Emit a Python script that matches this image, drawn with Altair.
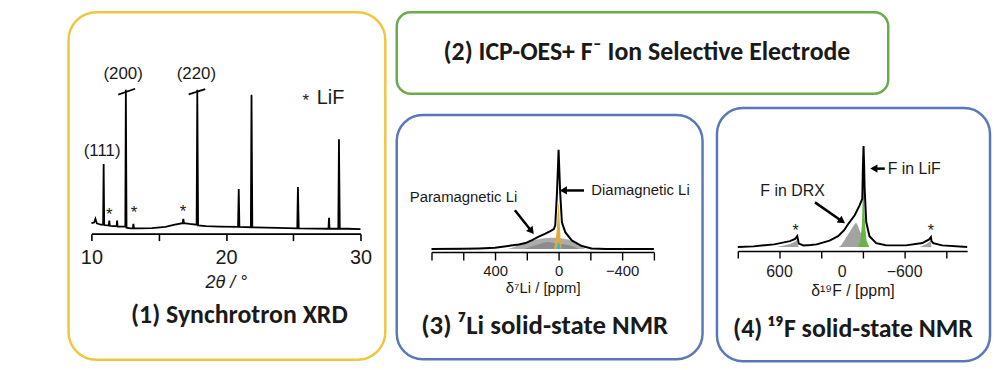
import altair as alt
import pandas as pd

# ---------------- data ----------------
# (1) synchrotron XRD trace
xrd_two_theta = [10.0, 10.2, 10.3, 10.4, 10.7, 10.87, 10.91, 10.95, 11.29, 11.33, 11.37, 11.6,
                 11.87, 11.91, 11.95, 12.3, 12.52, 12.56, 12.61, 12.9, 13.08, 13.12, 13.16, 13.5,
                 14.5, 15.5, 16.2, 16.78, 16.83, 16.88, 17.3, 17.82, 17.87, 17.93, 18.5, 19.5,
                 20.9, 20.95, 21.0, 21.85, 21.9, 21.96, 23.0, 25.3, 25.35, 25.41, 27.62, 27.66,
                 27.7, 28.35, 28.4, 28.46, 29.0, 30.0]
xrd_intensity = [7.0, 7.5, 10.0, 7.0, 6.0, 6.0, 46.7, 5.8, 5.5, 8.7, 5.3, 5.0,
                 5.0, 8.7, 4.8, 4.7, 4.7, 96.7, 4.0, 3.5, 3.5, 6.5, 3.5, 3.5,
                 3.7, 4.5, 6.0, 7.0, 10.0, 7.0, 6.5, 6.0, 96.7, 5.5, 5.0, 4.7,
                 4.5, 30.0, 4.5, 4.3, 93.3, 4.3, 4.0, 3.5, 31.3, 3.5, 3.3, 10.7,
                 3.3, 3.3, 63.3, 3.3, 3.3, 3.0]
xrd_break_x = [11.99, 17.23]
xrd_break_x2 = [13.25, 18.46]
xrd_break_y = [93.3, 93.5]
xrd_break_y2 = [97.3, 97.1]
xrd_labels = ["(111)", "(200)", "(220)"]
xrd_label_x = [10.8, 12.36, 17.8]
xrd_label_y = [55.3, 107.3, 107.3]
xrd_star_x = [11.33, 13.17, 16.81, 25.94]
xrd_star_y = [15.3, 16.4, 16.9, 92.0]
xrd_ticks = [10, 12.5, 15, 17.5, 20, 22.5, 25, 27.5, 30]

# (3) 7Li NMR
li_ppm = [800, 600, 500, 400, 300, 250, 208, 167, 125, 83, 52, 30, 21, 10, 5, 0, -5, -10, -21,
          -42, -83, -146, -208, -300, -600]
li_total = [0, 0.2, 0.6, 1.3, 3.5, 4.5, 6, 9, 12.5, 15.5, 18, 20, 24, 57, 78, 100, 78, 57, 27,
            17, 8.7, 3, 0.5, 0, 0]
li_broad_ppm = [320, 280, 230, 200, 146, 100, 50, 0, -62, -112, -140, -167]
li_broad = [0, 2, 5.3, 7, 9.3, 10.7, 11.3, 11.3, 9.7, 5.3, 2.5, 0]
li_para_ppm = [220, 150, 90, 60, 30, 10, -20, -60, -100, -130]
li_para = [0, 3.5, 6.5, 7, 6, 4.5, 5, 4, 2, 0]
li_dia_ppm = [29, 18, 10, 5, 2, -2, -6, -12, -19]
li_dia = [0, 8, 22, 38, 45, 45, 30, 12, 0]
li_small_ppm = [15, 6, 0, -6, -15]
li_small = [0, 5, 7, 5, 0]
li_ticks = [800, 600, 400, 200, 0, -200, -400, -600]

# (4) 19F NMR
f_ppm = [1000, 850, 650, 500, 450, 430, 415, 370, 300, 244, 120, 38, -20, -57, -121, -168,
         -194, -200, -206, -212, -216, -232, -263, -327, -420, -613, -770, -835, -852, -858,
         -875, -960, -1200]
f_total = [0, 0.7, 2.7, 6, 8.3, 11, 3.5, 1.7, 2, 2.7, 6.5, 11, 17, 23, 32, 42,
           48.5, 80, 101.7, 80, 60, 25, 11, 4, 1.8, 1.7, 4, 7.7, 10, 6,
           4, 1.7, 0]
f_drx_ppm = [30, 6, -41, -89, -120, -136, -150, -175, -200, -225, -250]
f_drx = [0, 2, 10, 18, 23, 24.5, 22, 15, 11, 5, 0]
f_sb1_ppm = [630, 560, 500, 450, 432, 418]
f_sb1 = [0, 1.5, 3, 5.5, 7, 0]
f_sb2_ppm = [-745, -790, -830, -850, -858]
f_sb2 = [0, 2, 4.5, 6, 0]
f_lif_ppm = [-150, -175, -190, -198, -205, -212, -220, -236, -262]
f_lif = [0, 6, 22, 50, 72, 50, 22, 6, 0]
f_star_ppm = [445, -851]
f_star_y = [20, 20]
f_ticks = [1000, 800, 600, 400, 200, 0, -200, -400, -600, -800, -1000, -1200]
f_tick_labels = ["600", "0", "\u2212600"]
f_tick_label_ppm = [600, 0, -600]

titles = ["(1) Synchrotron XRD", "(2) ICP-OES+ F\u207b Ion Selective Electrode",
          "(3) \u2077Li solid-state NMR", "(4) \u00b9\u2079F solid-state NMR"]

# ---------------- style ----------------
LBL = "Liberation Sans"
TTL = "Carlito, Lato, sans-serif"
TSIZE = 26
INK = "#1a1a1a"


def box(color, radius=26):
    return alt.ViewBackground(stroke=color, strokeWidth=2.5, cornerRadius=radius, fill="white")


def area_layer(xs, ys, xf, yf, ax, title, color):
    d = pd.DataFrame({"ppm": xs, "I": ys})
    return alt.Chart(d).mark_area(color=color, opacity=1, line=False).encode(
        x=alt.X("ppm:Q", scale=xf, axis=ax, title=title),
        y=alt.Y("I:Q", scale=yf, axis=None, stack=None),
    )


def arrow_head(x, y, angle, xf, yf):
    return alt.Chart(pd.DataFrame({"x": [x], "y": [y]})).mark_point(
        shape="triangle-up", filled=True, size=70, color="black", opacity=1, angle=angle).encode(
        x=alt.X("x:Q", scale=xf), y=alt.Y("y:Q", scale=yf))


# ---------------- (1) XRD ----------------
xs1 = alt.Scale(domain=[10, 30], range=[23, 294], nice=False, zero=False)
ys1 = alt.Scale(domain=[0, 100], range=[223, 73], nice=False, zero=False)
xrd_df = pd.DataFrame({"tt": xrd_two_theta, "I": xrd_intensity})
xrd_line = alt.Chart(xrd_df).mark_line(color="black", strokeWidth=1.8).encode(
    x=alt.X("tt:Q", scale=xs1, title="2\u03b8 / \u00b0",
            axis=alt.Axis(values=xrd_ticks, offset=-127, tickSize=7, tickWidth=1.6,
                          domainWidth=1.6, domainColor="black", tickColor="black",
                          labelExpr="datum.value % 10 == 0 ? datum.label : ''",
                          labelFont=LBL, labelFontSize=20, labelColor=INK, labelPadding=7,
                          labelFlush=False, labelOverlap=False, grid=False,
                          titleFont=LBL, titleFontSize=18, titleFontStyle="italic",
                          titleFontWeight="normal", titleColor=INK, titlePadding=6)),
    y=alt.Y("I:Q", scale=ys1, axis=None),
)
brk_df = pd.DataFrame({"x": xrd_break_x, "x2": xrd_break_x2, "y": xrd_break_y, "y2": xrd_break_y2})
xrd_breaks = alt.Chart(brk_df).mark_rule(color="black", strokeWidth=1.8).encode(
    x=alt.X("x:Q", scale=xs1), x2="x2:Q", y=alt.Y("y:Q", scale=ys1), y2="y2:Q")
lab_df = pd.DataFrame({"x": xrd_label_x, "y": xrd_label_y, "t": xrd_labels})
xrd_labs = alt.Chart(lab_df).mark_text(font=LBL, fontSize=17, color=INK).encode(
    x=alt.X("x:Q", scale=xs1), y=alt.Y("y:Q", scale=ys1), text="t:N")
star_df = pd.DataFrame({"x": xrd_star_x, "y": xrd_star_y})
xrd_stars = alt.Chart(star_df).mark_text(text="*", font=LBL, fontSize=17, color=INK, dy=4).encode(
    x=alt.X("x:Q", scale=xs1), y=alt.Y("y:Q", scale=ys1))
lif_df = pd.DataFrame({"x": [26.75], "y": [91.3], "t": ["LiF"]})
xrd_lif = alt.Chart(lif_df).mark_text(font=LBL, fontSize=20, color=INK, align="left").encode(
    x=alt.X("x:Q", scale=xs1), y=alt.Y("y:Q", scale=ys1), text="t:N")
t1 = alt.Chart(pd.DataFrame({"t": [titles[0]]})).mark_text(
    font=TTL, fontSize=TSIZE, fontWeight="bold", color=INK).encode(
    text="t:N", x=alt.value(172), y=alt.value(305))
xrd = alt.layer(xrd_line, xrd_breaks, xrd_labs, xrd_stars, xrd_lif, t1).properties(
    width=319, height=350, view=box("#efc63f", 28))

# ---------------- (2) ICP ----------------
icp = alt.Chart(pd.DataFrame({"t": [titles[1]]})).mark_text(
    font=TTL, fontSize=TSIZE, fontWeight="bold", color=INK).encode(
    text="t:N", x=alt.value(252), y=alt.value(40)).properties(
    width=495, height=82, view=box("#6aab4b", 14))

# ---------------- (3) 7Li NMR ----------------
xs3 = alt.Scale(domain=[800, -600], range=[35, 259], nice=False, zero=False)
ys3 = alt.Scale(domain=[0, 100], range=[135, 35], nice=False, zero=False)
ax3 = alt.Axis(values=li_ticks, offset=-108, tickSize=8, tickWidth=1.4,
               domainWidth=1.4, domainColor="black", tickColor="black",
               labelExpr="(abs(datum.value) < 1 || abs(abs(datum.value) - 400) < 1) ? datum.label : ''",
               labelFont=LBL, labelFontSize=15, labelColor=INK, labelPadding=4,
               labelFlush=False, labelOverlap=False, grid=False,
               titleFont=LBL, titleFontSize=15, titleFontWeight="normal",
               titleColor=INK, titlePadding=2)
ttl3 = "\u03b4\u2077Li / [ppm]"
li_df = pd.DataFrame({"ppm": li_ppm, "I": li_total})
li_line = alt.Chart(li_df).mark_line(color="black", strokeWidth=2).encode(
    x=alt.X("ppm:Q", scale=xs3, axis=ax3, title=ttl3),
    y=alt.Y("I:Q", scale=ys3, axis=None),
)
li_areas = [
    area_layer(li_broad_ppm, li_broad, xs3, ys3, ax3, ttl3, "#ababab"),
    area_layer(li_para_ppm, li_para, xs3, ys3, ax3, ttl3, "#8c8c8c"),
    area_layer(li_dia_ppm, li_dia, xs3, ys3, ax3, ttl3, "#e3aa3c"),
    area_layer(li_small_ppm, li_small, xs3, ys3, ax3, ttl3, "#41b6c8"),
]
li_txt_df = pd.DataFrame({"x": [937, -206], "y": [52, 59], "t": ["Paramagnetic Li", "Diamagnetic Li"]})
li_txt = alt.Chart(li_txt_df).mark_text(font=LBL, fontSize=15, color=INK, align="left").encode(
    x=alt.X("x:Q", scale=xs3), y=alt.Y("y:Q", scale=ys3), text="t:N")
li_arr_df = pd.DataFrame({"x": [275, -160], "x2": [170, -30], "y": [39, 59], "y2": [18, 59]})
li_arr = alt.Chart(li_arr_df).mark_rule(color="black", strokeWidth=2.5).encode(
    x=alt.X("x:Q", scale=xs3), x2="x2:Q", y=alt.Y("y:Q", scale=ys3), y2="y2:Q")
t3 = alt.Chart(pd.DataFrame({"t": [titles[2]]})).mark_text(
    font=TTL, fontSize=27, fontWeight="bold", color=INK).encode(
    text="t:N", x=alt.value(149), y=alt.value(213))
li = alt.layer(*li_areas, li_line, li_txt, li_arr,
               arrow_head(170, 18, 142, xs3, ys3), arrow_head(-30, 59, 270, xs3, ys3),
               t3).properties(width=308, height=246, view=box("#5a78b9", 26))

spacer = alt.Chart(pd.DataFrame({"v": [0]})).mark_rule(strokeOpacity=0).encode(
    x=alt.value(1), y=alt.value(0), y2=alt.value(1)).properties(
    width=308, height=1, view=alt.ViewBackground(strokeOpacity=0, fillOpacity=0))

# ---------------- (4) 19F NMR ----------------
xs4 = alt.Scale(domain=[1000, -1200], range=[21, 252], nice=False, zero=False)
ys4 = alt.Scale(domain=[0, 100], range=[140, 40], nice=False, zero=False)
ax4 = alt.Axis(values=f_ticks, offset=-111, tickSize=7, tickWidth=1.4,
               domainWidth=1.4, domainColor="black", tickColor="black",
               labels=False, grid=False,
               titleFont=LBL, titleFontSize=16, titleFontWeight="normal",
               titleColor=INK, titlePadding=24)
ttl4 = "\u03b4\u00b9\u2079F / [ppm]"
f_df = pd.DataFrame({"ppm": f_ppm, "I": f_total})
f_line = alt.Chart(f_df).mark_line(color="black", strokeWidth=2).encode(
    x=alt.X("ppm:Q", scale=xs4, axis=ax4, title=ttl4),
    y=alt.Y("I:Q", scale=ys4, axis=None),
)
f_areas = [
    area_layer(f_drx_ppm, f_drx, xs4, ys4, ax4, ttl4, "#a3a3a3"),
    area_layer(f_sb1_ppm, f_sb1, xs4, ys4, ax4, ttl4, "#a3a3a3"),
    area_layer(f_sb2_ppm, f_sb2, xs4, ys4, ax4, ttl4, "#a3a3a3"),
    area_layer(f_lif_ppm, f_lif, xs4, ys4, ax4, ttl4, "#6cb24a"),
]
f_lab_df = pd.DataFrame({"x": f_tick_label_ppm, "y": [-25] * 3, "t": f_tick_labels})
f_labs = alt.Chart(f_lab_df).mark_text(font=LBL, fontSize=16, color=INK).encode(
    x=alt.X("x:Q", scale=xs4, axis=ax4, title=ttl4), y=alt.Y("y:Q", scale=ys4), text="t:N")
f_txt_df = pd.DataFrame({"x": [784, -438], "y": [56.7, 79], "t": ["F in DRX", "F in LiF"]})
f_txt = alt.Chart(f_txt_df).mark_text(font=LBL, fontSize=16, color=INK, align="left").encode(
    x=alt.X("x:Q", scale=xs4), y=alt.Y("y:Q", scale=ys4), text="t:N")
f_stars = alt.Chart(pd.DataFrame({"x": f_star_ppm, "y": f_star_y})).mark_text(
    text="*", font=LBL, fontSize=16, color=INK, dy=4).encode(
    x=alt.X("x:Q", scale=xs4), y=alt.Y("y:Q", scale=ys4))
f_arr_df = pd.DataFrame({"x": [260, -410], "x2": [0, -305], "y": [45, 79], "y2": [26, 79]})
f_arr = alt.Chart(f_arr_df).mark_rule(color="black", strokeWidth=2.5).encode(
    x=alt.X("x:Q", scale=xs4), x2="x2:Q", y=alt.Y("y:Q", scale=ys4), y2="y2:Q")
t4 = alt.Chart(pd.DataFrame({"t": [titles[3]]})).mark_text(
    font=TTL, fontSize=TSIZE, fontWeight="bold", color=INK).encode(
    text="t:N", x=alt.value(137), y=alt.value(223))
fnmr = alt.layer(*f_areas, f_line, f_labs, f_txt, f_stars, f_arr,
                 arrow_head(0, 26, 125, xs4, ys4), arrow_head(-305, 79, 270, xs4, ys4),
                 t4).properties(width=275, height=255, view=box("#5a78b9", 26))

# ---------------- layout ----------------
right = alt.vconcat(
    icp,
    alt.hconcat(alt.vconcat(spacer, li, spacing=4), fnmr, spacing=10.5),
    spacing=10.5,
)
chart = alt.hconcat(xrd, right, spacing=7.5).properties(
    padding={"left": 59, "top": 1, "right": 0, "bottom": 0}
).configure_view(strokeWidth=0).configure_axis(grid=False)

chart.save("out.html", embed_options={"renderer": "svg", "actions": False})
